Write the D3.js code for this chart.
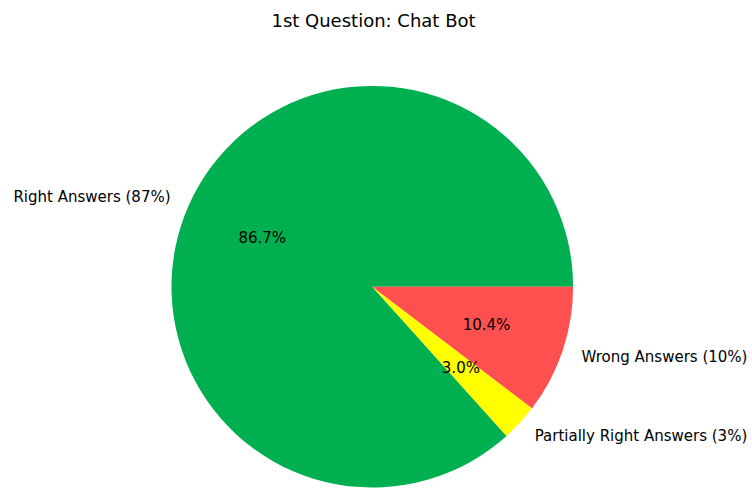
<!DOCTYPE html>
<html>
<head>
<meta charset="utf-8">
<script src="https://cdn.jsdelivr.net/npm/d3@7"></script>
<style>
  html, body { margin: 0; padding: 0; background: #fff; }
  svg { display: block; font-family: "DejaVu Sans", sans-serif; }
</style>
</head>
<body>
<svg id="chart" width="752" height="489"></svg>
<script>
// Answer categories and their shares
const categories = ["Right Answers (87%)", "Partially Right Answers (3%)", "Wrong Answers (10%)"];
const values = [87, 3, 10.4];
const colors = ["#00B050", "#FFFF00", "#FF5050"];
const title = "1st Question: Chat Bot";

const width = 752, height = 489;
const cx = 372.3, cy = 286.7, radius = 200.8;

const svg = d3.select("#chart");

svg.append("text")
  .attr("x", 373.5)
  .attr("y", 20)
  .attr("text-anchor", "middle")
  .attr("dominant-baseline", "central")
  .attr("font-size", "18px")
  .attr("fill", "#000")
  .text(title);

const data = categories.map((c, i) => ({ label: c, value: values[i], color: colors[i] }));
const total = d3.sum(values);

// Slices start at 3 o'clock and run counter-clockwise
const pie = d3.pie()
  .value(d => d.value)
  .sort(null)
  .startAngle(Math.PI / 2)
  .endAngle(Math.PI / 2 - 2 * Math.PI);

const arcs = pie(data);
const arc = d3.arc().innerRadius(0).outerRadius(radius);

const g = svg.append("g").attr("transform", `translate(${cx},${cy})`);

g.selectAll("path.slice")
  .data(arcs)
  .join("path")
  .attr("class", "slice")
  .attr("d", arc)
  .attr("fill", d => d.data.color);

// position on a circle of radius r at the slice's mid angle (d3 angle: 0 = up, clockwise)
function at(d, r) {
  const a = (d.startAngle + d.endAngle) / 2;
  return [r * Math.sin(a), -r * Math.cos(a)];
}

g.selectAll("text.label")
  .data(arcs)
  .join("text")
  .attr("class", "label")
  .attr("x", d => at(d, radius * 1.1)[0])
  .attr("y", d => at(d, radius * 1.1)[1])
  .attr("text-anchor", d => at(d, 1)[0] > 0 ? "start" : "end")
  .attr("dominant-baseline", "central")
  .attr("font-size", "15px")
  .attr("fill", "#000")
  .text(d => d.data.label);

const fmt = d3.format(".1f");
g.selectAll("text.pct")
  .data(arcs)
  .join("text")
  .attr("class", "pct")
  .attr("x", d => at(d, radius * 0.6)[0])
  .attr("y", d => at(d, radius * 0.6)[1])
  .attr("text-anchor", "middle")
  .attr("dominant-baseline", "central")
  .attr("font-size", "15px")
  .attr("fill", "#000")
  .text(d => fmt(d.data.value / total * 100) + "%");
</script>
</body>
</html>
